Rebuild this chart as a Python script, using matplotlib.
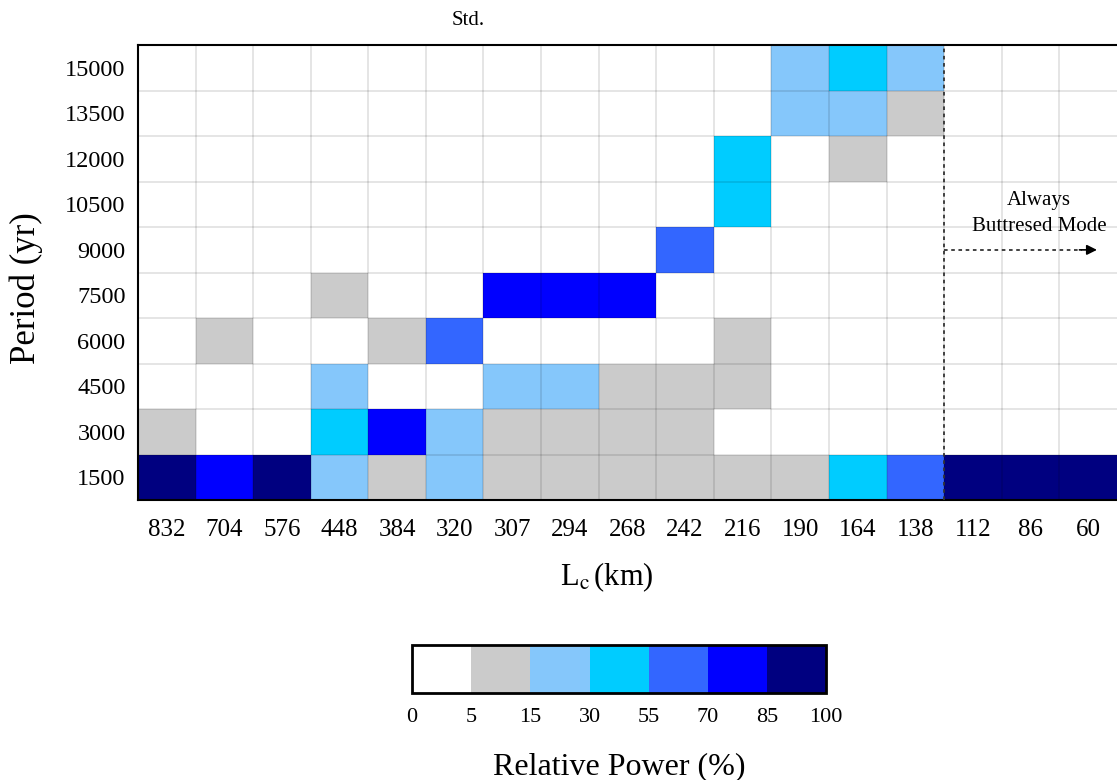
import numpy as np
import matplotlib.pyplot as plt
from matplotlib.colors import ListedColormap, BoundaryNorm

plt.rcParams['font.family'] = ['Liberation Serif', 'DejaVu Serif']
plt.rcParams['mathtext.fontset'] = 'stix'

## Data: relative power (%) for each period (rows, bottom -> top) and Lc (columns)
lc_labels = ["832", "704", "576", "448", "384", "320", "307", "294", "268",
             "242", "216", "190", "164", "138", "112", "86", "60"]
period_labels = ["1500", "3000", "4500", "6000", "7500", "9000",
                 "10500", "12000", "13500", "15000"]

row_1500  = [92, 78, 92, 22, 10, 22, 10, 10, 10, 10, 10, 10, 42, 62, 92, 92, 92]
row_3000  = [10, 2, 2, 42, 78, 22, 10, 10, 10, 10, 2, 2, 2, 2, 2, 2, 2]
row_4500  = [2, 2, 2, 22, 2, 2, 22, 22, 10, 10, 10, 2, 2, 2, 2, 2, 2]
row_6000  = [2, 10, 2, 2, 10, 62, 2, 2, 2, 2, 10, 2, 2, 2, 2, 2, 2]
row_7500  = [2, 2, 2, 10, 2, 2, 78, 78, 78, 2, 2, 2, 2, 2, 2, 2, 2]
row_9000  = [2, 2, 2, 2, 2, 2, 2, 2, 2, 62, 2, 2, 2, 2, 2, 2, 2]
row_10500 = [2, 2, 2, 2, 2, 2, 2, 2, 2, 2, 42, 2, 2, 2, 2, 2, 2]
row_12000 = [2, 2, 2, 2, 2, 2, 2, 2, 2, 2, 42, 2, 10, 2, 2, 2, 2]
row_13500 = [2, 2, 2, 2, 2, 2, 2, 2, 2, 2, 2, 22, 22, 10, 2, 2, 2]
row_15000 = [2, 2, 2, 2, 2, 2, 2, 2, 2, 2, 2, 22, 42, 22, 2, 2, 2]

power = np.array([row_1500, row_3000, row_4500, row_6000, row_7500,
                  row_9000, row_10500, row_12000, row_13500, row_15000])

bounds = [0, 5, 15, 30, 55, 70, 85, 100]
colors = ["#ffffff", "#cbcbcb", "#85c7fb", "#00ccff", "#3366ff", "#0000ff", "#000080"]
cmap = ListedColormap(colors)
norm = BoundaryNorm(bounds, cmap.N)

fig = plt.figure(figsize=(11.17, 7.8), dpi=100)
ax = fig.add_axes([0.1235, 0.359, 0.8765, 0.583])

nr, nc = power.shape
mesh = ax.pcolormesh(np.arange(nc + 1), np.arange(nr + 1), power,
                     cmap=cmap, norm=norm, shading="flat")

# light grid lines over the cells
for x in range(1, nc):
    ax.axvline(x, color="k", alpha=0.12, lw=1.2, zorder=2)
for y in range(1, nr):
    ax.axhline(y, color="k", alpha=0.12, lw=1.2, zorder=2)

ax.set_xlim(0, nc)
ax.set_ylim(0, nr)
ax.set_xticks(np.arange(nc) + 0.5)
ax.set_xticklabels(lc_labels, fontsize=18)
ax.set_yticks(np.arange(nr) + 0.5)
ax.set_yticklabels(period_labels, fontsize=17.5)
ax.tick_params(axis="y", length=0, pad=9)
ax.tick_params(axis="x", length=0, pad=14)
ax.spines["right"].set_visible(False)
for s in ["left", "bottom", "top"]:
    ax.spines[s].set_linewidth(1.5)

ax.set_xlabel(r"L$_\mathrm{c}\,$(km)", fontsize=22)
ax.xaxis.set_label_coords(0.479, -0.133)
ax.set_ylabel("Period (yr)", fontsize=25)
ax.yaxis.set_label_coords(-0.097, 0.465)
ax.text(5.73, 10.55, "Std.", fontsize=15, ha="center", va="center")

# always buttressed region
ax.axvline(14, color="#333333", ls=(0, (2, 2)), lw=1.3, zorder=3)
ax.plot([14, 16.4], [5.5, 5.5], color="#333333", ls=(0, (2, 2)), lw=1.3, zorder=3)
ax.annotate("", xy=(16.7, 5.5), xytext=(16.3, 5.5),
            arrowprops=dict(arrowstyle="-|>", color="k", lw=1.2,
                            mutation_scale=15), zorder=4)
ax.text(15.65, 6.3, "Always\nButtresed Mode", fontsize=15,
        ha="center", va="center", linespacing=1.45)

# colorbar
cax = fig.add_axes([0.369, 0.1115, 0.3706, 0.0615])
cb = fig.colorbar(mesh, cax=cax, orientation="horizontal",
                  boundaries=bounds, ticks=bounds, spacing="uniform")
cb.outline.set_linewidth(2)
cb.ax.tick_params(length=0, labelsize=16, pad=11)
cb.set_label("Relative Power (%)", fontsize=23, labelpad=18)

plt.savefig("out.png", dpi=100)
